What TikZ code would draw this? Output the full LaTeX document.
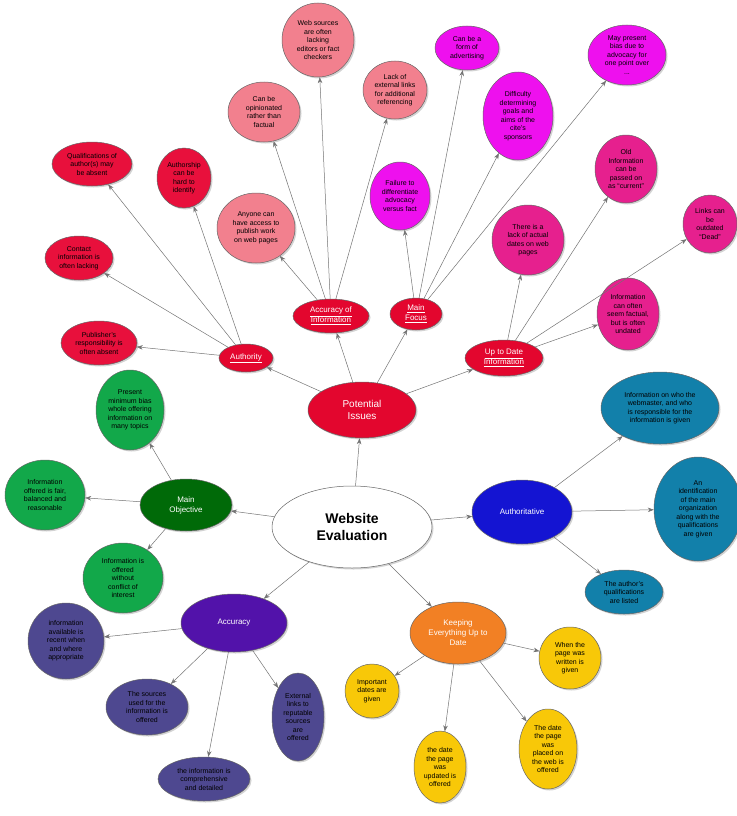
\documentclass[tikz,border=0pt]{standalone}
\usepackage{fontspec}
\setmainfont{Liberation Sans}
\usetikzlibrary{shapes.geometric,shadows,arrows.meta}
\definecolor{cred}{HTML}{E3062E}
\definecolor{cleaf}{HTML}{E8103C}
\definecolor{cpink}{HTML}{F2808E}
\definecolor{cmag}{HTML}{EE10EE}
\definecolor{cdp}{HTML}{E6208E}
\definecolor{cgrn}{HTML}{12A84A}
\definecolor{cdg}{HTML}{006A08}
\definecolor{cblue}{HTML}{1414D2}
\definecolor{cteal}{HTML}{1280AA}
\definecolor{cpur}{HTML}{5212AA}
\definecolor{cpl}{HTML}{4E4890}
\definecolor{corg}{HTML}{F28024}
\definecolor{cyel}{HTML}{F8C808}
\tikzset{
 el/.style={ellipse,draw=black!60,line width=0.5pt,align=center,inner sep=0pt,
   font=\fontsize{7}{8.5}\selectfont,text=black,drop shadow={opacity=0.35,shadow xshift=1.5pt,shadow yshift=-1.5pt}},
 sz/.style 2 args={minimum width=#1pt,minimum height=#2pt},
 ar/.style={draw=black!55,line width=0.5pt,-{Stealth[length=6pt,width=4.5pt]}}
}
\begin{document}
\begin{tikzpicture}[x=1pt,y=-1pt]
\useasboundingbox (0,0) rectangle (736,816);
% main
\node[el,sz={160}{82},fill=white,font=\bfseries\fontsize{14}{17}\selectfont] (M) at (352,527) {Website\\Evaluation};
\node[el,sz={108}{56},fill=cred,text=white,font=\fontsize{10}{12}\selectfont] (P) at (362,410) {Potential\\Issues};
\node[el,sz={54}{28},fill=cred,text=white,font=\fontsize{8}{10}\selectfont] (Au) at (246,358) {\underline{Authority}};
\node[el,sz={76}{34},fill=cred,text=white,font=\fontsize{8}{10}\selectfont] (AI) at (331,316) {\underline{Accuracy of}\\\underline{Information}};
\node[el,sz={52}{32},fill=cred,text=white,font=\fontsize{8}{10}\selectfont] (MF) at (416,314) {\underline{Main}\\\underline{Focus}};
\node[el,sz={78}{36},fill=cred,text=white,font=\fontsize{8}{10}\selectfont] (UD) at (504,358) {\underline{Up to Date}\\\underline{Information}};
% authority leaves
\node[el,sz={80}{44},fill=cleaf] (a1) at (92,164) {Qualifications of\\author(s) may\\be absent};
\node[el,sz={54}{60},fill=cleaf] (a2) at (184,178) {Authorship\\can be\\hard to\\identify};
\node[el,sz={68}{44},fill=cleaf] (a3) at (79,258) {Contact\\information is\\often lacking};
\node[el,sz={76}{44},fill=cleaf] (a4) at (99,343) {Publisher's\\responsibility is\\often absent};
% accuracy of info leaves
\node[el,sz={72}{74},fill=cpink] (b1) at (318,40) {Web sources\\are often\\lacking\\editors or fact\\checkers};
\node[el,sz={72}{60},fill=cpink] (b2) at (264,112) {Can be\\opinionated\\rather than\\factual};
\node[el,sz={78}{70},fill=cpink] (b3) at (256,228) {Anyone can\\have access to\\publish work\\on web pages};
\node[el,sz={64}{58},fill=cpink] (b4) at (395,90) {Lack of\\external links\\for additional\\referencing};
% main focus leaves
\node[el,sz={64}{44},fill=cmag] (c1) at (467,48) {Can be a\\form of\\advertising};
\node[el,sz={70}{88},fill=cmag] (c2) at (518,116) {Difficulty\\determining\\goals and\\aims of the\\cite's\\sponsors};
\node[el,sz={78}{60},fill=cmag] (c3) at (627,55) {May present\\bias due to\\advocacy for\\one point over\\...};
\node[el,sz={60}{68},fill=cmag] (c4) at (400,196) {Failure to\\differentiate\\advocacy\\versus fact};
% up to date leaves
\node[el,sz={72}{70},fill=cdp] (d1) at (528,240) {There is a\\lack of actual\\dates on web\\pages};
\node[el,sz={62}{68},fill=cdp] (d2) at (626,169) {Old\\Information\\can be\\passed on\\as ``current''};
\node[el,sz={54}{58},fill=cdp] (d3) at (710,224) {Links can\\be\\outdated\\``Dead''};
\node[el,sz={62}{72},fill=cdp] (d4) at (628,314) {Information\\can often\\seem factual,\\but is often\\undated};
% main objective
\node[el,sz={92}{52},fill=cdg,text=white,font=\fontsize{8}{10}\selectfont] (MO) at (186,505) {Main\\Objective};
\node[el,sz={68}{80},fill=cgrn] (e1) at (130,410) {Present\\minimum bias\\whole offering\\information on\\many topics};
\node[el,sz={80}{70},fill=cgrn] (e2) at (45,495) {Information\\offered is fair,\\balanced and\\reasonable};
\node[el,sz={80}{70},fill=cgrn] (e3) at (123,578) {Information is\\offered\\without\\conflict of\\interest};
% authoritative
\node[el,sz={100}{64},fill=cblue,text=white,font=\fontsize{8}{10}\selectfont] (AT) at (522,512) {Authoritative};
\node[el,sz={118}{72},fill=cteal] (f1) at (660,408) {Information on who the\\webmaster, and who\\is responsible for the\\information is given};
\node[el,sz={88}{104},fill=cteal] (f2) at (698,509) {An\\identification\\of the main\\organization\\along with the\\qualifications\\are given};
\node[el,sz={78}{44},fill=cteal] (f3) at (624,592) {The author's\\qualifications\\are listed};
% accuracy
\node[el,sz={106}{58},fill=cpur,text=white,font=\fontsize{8}{10}\selectfont] (AC) at (234,623) {Accuracy};
\node[el,sz={76}{76},fill=cpl] (g1) at (66,641) {information\\available is\\recent when\\and where\\appropriate};
\node[el,sz={82}{56},fill=cpl] (g2) at (147,707) {The sources\\used for the\\information is\\offered};
\node[el,sz={52}{88},fill=cpl] (g3) at (298,717) {External\\links to\\reputable\\sources\\are\\offered};
\node[el,sz={92}{44},fill=cpl] (g4) at (204,779) {the information is\\comprehensive\\and detailed};
% keeping
\node[el,sz={96}{62},fill=corg,text=white,font=\fontsize{8}{10}\selectfont] (K) at (458,633) {Keeping\\Everything Up to\\Date};
\node[el,sz={54}{54},fill=cyel] (h1) at (372,691) {Important\\dates are\\given};
\node[el,sz={62}{62},fill=cyel] (h2) at (570,658) {When the\\page was\\written is\\given};
\node[el,sz={52}{72},fill=cyel] (h3) at (440,767) {the date\\the page\\was\\updated is\\offered};
\node[el,sz={58}{80},fill=cyel] (h4) at (548,749) {The date\\the page\\was\\placed on\\the web is\\offered};
% connectors
\foreach \a/\b in {M/P,M/MO,M/AT,M/AC,M/K,P/Au,P/AI,P/MF,P/UD,
 Au/a1,Au/a2,Au/a3,Au/a4,AI/b1,AI/b2,AI/b3,AI/b4,MF/c1,MF/c2,MF/c3,MF/c4,
 UD/d1,UD/d2,UD/d3,UD/d4,MO/e1,MO/e2,MO/e3,AT/f1,AT/f2,AT/f3,
 AC/g1,AC/g2,AC/g3,AC/g4,K/h1,K/h2,K/h3,K/h4}
 \draw[ar] (\a) -- (\b);
\end{tikzpicture}
\end{document}
